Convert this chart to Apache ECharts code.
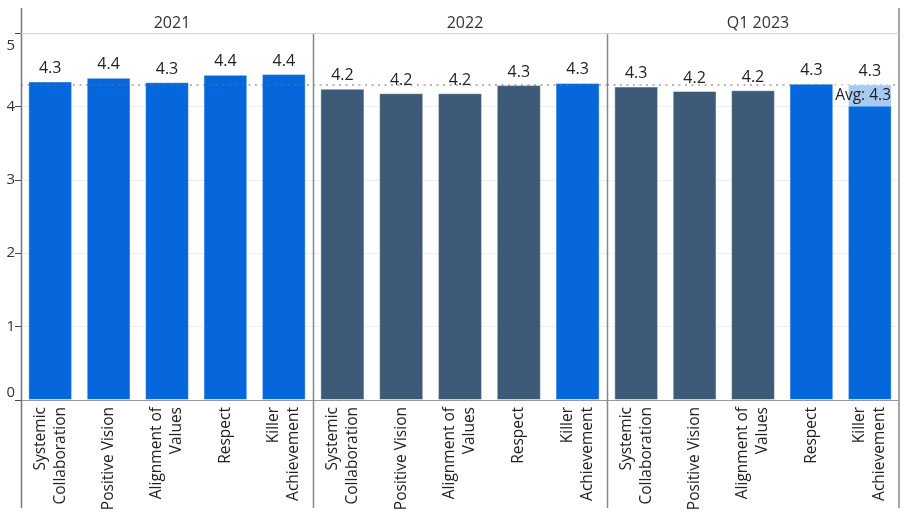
<!DOCTYPE html>
<html>
<head>
<meta charset="utf-8">
<script src="https://cdn.jsdelivr.net/npm/echarts@6/dist/echarts.min.js"></script>
<style>
  html, body { margin: 0; padding: 0; background: #fff; }
  #chart { width: 908px; height: 516px; }
</style>
</head>
<body>
<div id="chart"></div>
<script>
// ---- data ----
const categories = ['Systemic\nCollaboration', 'Positive Vision', 'Alignment of\nValues', 'Respect', 'Killer\nAchievement'];
const periods = ['2021', '2022', 'Q1 2023'];
const values2021 = [4.34, 4.39, 4.33, 4.43, 4.44];
const values2022 = [4.24, 4.18, 4.18, 4.29, 4.32];
const valuesQ12023 = [4.27, 4.21, 4.22, 4.31, 4.30];
const average = 4.30;
const yTicks = [0, 1, 2, 3, 4, 5];

// ---- styling / layout ----
const FONT = '"Open Sans", "Noto Sans", sans-serif';
const BLUE = '#0567DB';
const DARK = '#3D5A78';
const panels = [[21, 313], [313, 607], [607, 899]];
const plotTop = 33, plotBottom = 400;
const allValues = [values2021, values2022, valuesQ12023];

const chart = echarts.init(document.getElementById('chart'), null, { renderer: 'canvas' });

const grids = [], xAxes = [], yAxes = [], series = [], titles = [];
panels.forEach((p, i) => {
  grids.push({ left: p[0], width: p[1] - p[0], top: plotTop, height: plotBottom - plotTop, containLabel: false });
  xAxes.push({
    type: 'category', gridIndex: i, data: categories,
    axisLine: { show: true, lineStyle: { color: '#999', width: 1 } },
    axisTick: { show: false },
    axisLabel: { rotate: 90, margin: 7, fontSize: 15.5, color: '#222', fontFamily: FONT, lineHeight: 20, interval: 0 }
  });
  yAxes.push({
    type: 'value', gridIndex: i, min: yTicks[0], max: yTicks[yTicks.length - 1], interval: 1,
    axisLine: { show: false },
    axisTick: { show: i === 0, length: 6, lineStyle: { color: '#444' } },
    axisLabel: {
      show: i === 0, fontSize: 15, color: '#333', fontFamily: FONT, margin: 6,
      verticalAlignMaxLabel: 'top', verticalAlignMinLabel: 'bottom',
      formatter: v => v === yTicks[yTicks.length - 1] ? '{mx|' + v + '}' : String(v),
      rich: { mx: { fontSize: 15, color: '#333', fontFamily: FONT, padding: [5, 0, 0, 0] } }
    },
    splitLine: { show: true, lineStyle: { color: '#eeeeee', width: 1 } }
  });
  const isLast = i === panels.length - 1;
  series.push({
    type: 'bar', xAxisIndex: i, yAxisIndex: i,
    barCategoryGap: '25%',
    data: allValues[i].map(v => ({
      value: v,
      itemStyle: { color: v >= average ? BLUE : DARK, borderColor: 'rgba(255,255,255,0.45)', borderWidth: 1 }
    })),
    label: {
      show: true, position: 'top', distance: 5, fontSize: 16, color: '#222', fontFamily: FONT,
      formatter: p => p.value.toFixed(1)
    },
    markLine: {
      silent: true, symbol: 'none', animation: false,
      lineStyle: { type: [2, 4.5], width: 2, color: 'rgba(110,110,110,0.5)' },
      data: [{ yAxis: average }],
      label: isLast ? {
        show: true, position: 'insideEndBottom', distance: [7, 0],
        formatter: 'Avg: ' + average.toFixed(1),
        fontSize: 15.5, color: '#222', fontFamily: FONT,
        backgroundColor: 'rgba(255,255,255,0.65)', padding: [3, 1, 3, 1]
      } : { show: false }
    }
  });
  titles.push({
    text: periods[i], left: (p[0] + p[1]) / 2, top: 10, textAlign: 'center',
    textStyle: { fontSize: 16, fontWeight: 'normal', color: '#333', fontFamily: FONT }
  });
});

const lineEls = [];
function vline(x, y1, y2, color, w) {
  lineEls.push({ type: 'line', z: 100, shape: { x1: x, y1: y1, x2: x, y2: y2 }, style: { stroke: color, lineWidth: w } });
}
vline(21.5, 8, 508, '#777', 1.5);
vline(313.5, 33, 508, '#888', 1.5);
vline(607.5, 33, 508, '#888', 1.5);
vline(899, 8, 508, '#888', 1.5);
lineEls.push({ type: 'line', z: 100, shape: { x1: 21, y1: 33.5, x2: 899, y2: 33.5 }, style: { stroke: '#d4d4d4', lineWidth: 1 } });

chart.setOption({
  animation: false,
  backgroundColor: '#fff',
  title: titles,
  grid: grids,
  xAxis: xAxes,
  yAxis: yAxes,
  series: series,
  graphic: lineEls
});
</script>
</body>
</html>
